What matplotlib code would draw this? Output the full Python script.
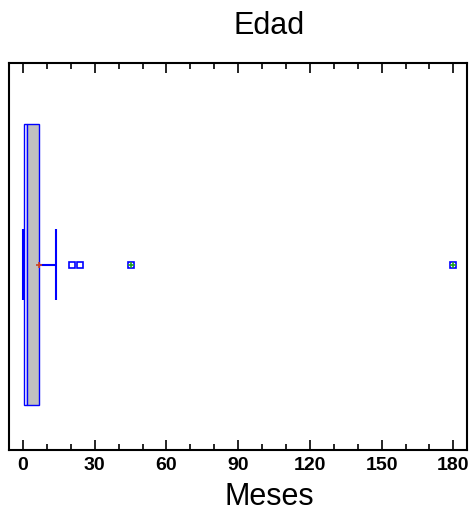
import matplotlib.pyplot as plt
from matplotlib.ticker import MultipleLocator

plt.rcParams['font.family'] = ['Liberation Sans', 'DejaVu Sans']

# resumen de Edad (meses)
q1 = 0.3
mediana = 1.5
q3 = 6.7
bigote_min = 0.0
bigote_max = 13.8
media = 6.5
atipicos = [20.6, 24.0]
atipicos_lejanos = [45.0, 180.0]
xticks = [0, 30, 60, 90, 120, 150, 180]

fig = plt.figure(figsize=(4.72, 5.16), dpi=100)
ax = fig.add_axes([9/472, 1-450/516, 458/472, 387/516])

azul = '#0000ff'
ax.barh(0, mediana - q1, left=q1, height=1.0, color='white', edgecolor=azul, linewidth=1)
ax.barh(0, q3 - mediana, left=mediana, height=1.0, color='#c0c0c0', edgecolor=azul, linewidth=1)

# bigotes
ax.hlines(0, bigote_min, q1, color=azul, linewidth=1.2)
ax.hlines(0, q3, bigote_max, color=azul, linewidth=1.5)
ax.vlines([bigote_min, bigote_max], -0.125, 0.125, color=azul, linewidth=1.5)

# media
ax.plot([media], [0], marker='+', color='#d04020', markersize=5, mew=1.2, linestyle='none')

# atipicos
ax.plot(atipicos, [0]*len(atipicos), marker='s', markersize=5, mfc='white', mec=azul,
        mew=1.2, linestyle='none')
ax.plot(atipicos_lejanos, [0]*len(atipicos_lejanos), marker='s', markersize=5, mfc='white',
        mec=azul, mew=1.2, linestyle='none')
ax.plot(atipicos_lejanos, [0]*len(atipicos_lejanos), marker='+', markersize=5, color='#20a020',
        mew=1.2, linestyle='none')

ax.set_xlim(-5.86, 185.7)
ax.set_ylim(-0.66, 0.717)
ax.set_yticks([])
ax.set_xticks(xticks)
ax.set_xticklabels([str(t) for t in xticks], fontsize=14, fontweight='bold')
ax.xaxis.set_minor_locator(MultipleLocator(10))
ax.tick_params(axis='x', which='major', direction='in', length=7, width=1.2, top=True, pad=5)
ax.tick_params(axis='x', which='minor', direction='in', length=4, width=1.2, top=True)
for s in ax.spines.values():
    s.set_linewidth(1.5)

fig.text(269/472, 1-26/516, 'Edad', ha='center', va='center', fontsize=22)
fig.text(269/472, 1-497/516, 'Meses', ha='center', va='center', fontsize=22)

fig.savefig('out.png', dpi=100)
